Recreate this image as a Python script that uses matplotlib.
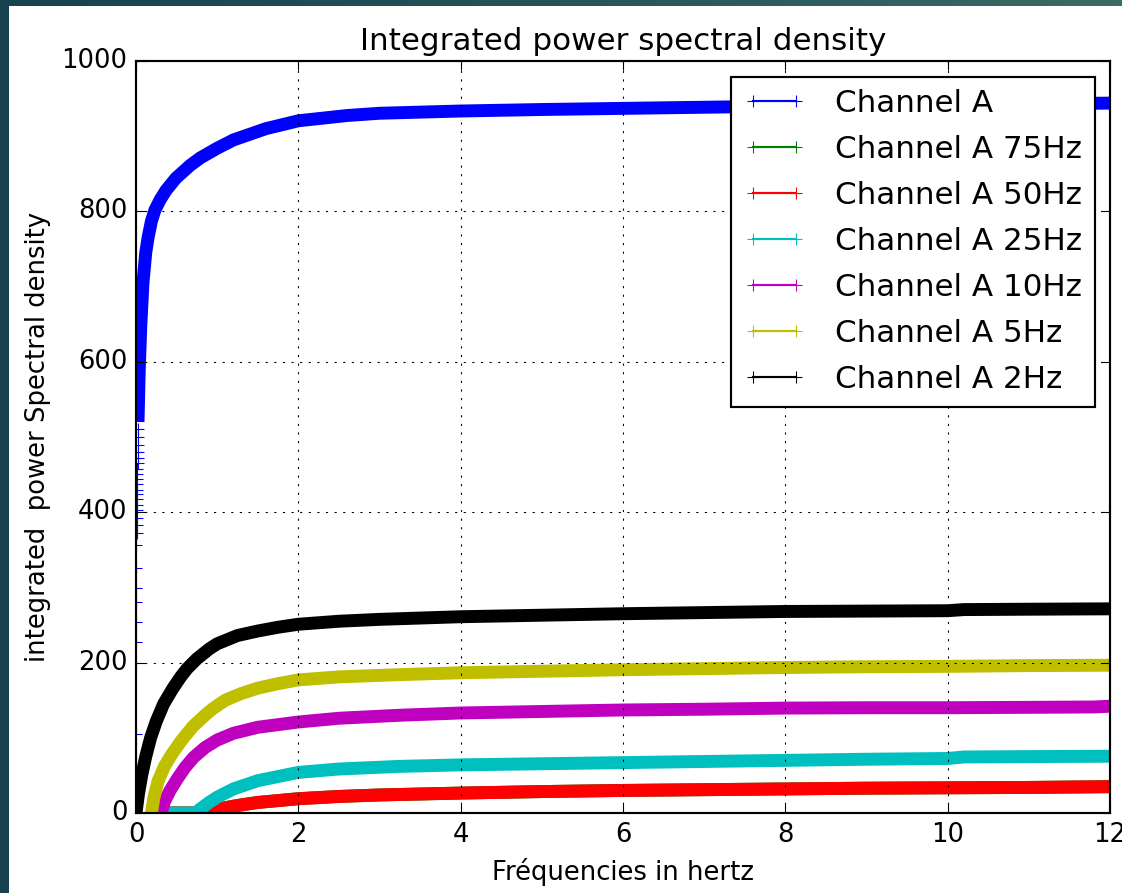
import matplotlib
matplotlib.use("Agg")
import numpy as np
import matplotlib.pyplot as plt
from matplotlib.lines import Line2D
from matplotlib.colors import LinearSegmentedColormap

plt.style.use("classic")
plt.rcParams["font.family"] = ["DejaVu Sans"]

# ---- data: cumulative PSD (frequency in Hz, integrated power) ----
labels = ["Channel A", "Channel A 75Hz", "Channel A 50Hz", "Channel A 25Hz",
          "Channel A 10Hz", "Channel A 5Hz", "Channel A 2Hz"]
colors = ["b", "g", "r", "c", "m", "y", "k"]

# first bins of the unfiltered channel, where the curve is almost vertical
blue_onset_hz = [0.0, 0.001, 0.002, 0.003, 0.004, 0.005, 0.006, 0.007, 0.008,
                 0.009, 0.010, 0.011, 0.012, 0.013, 0.014, 0.015, 0.016, 0.017,
                 0.018, 0.019, 0.020, 0.021, 0.022, 0.023, 0.024]
blue_onset_psd = [105, 227, 254, 281, 299, 326, 356, 372, 383, 392, 403, 410,
                  417, 424, 430, 437, 444, 451, 458, 465, 472, 480, 490, 500, 510]

blue_hz = [0.025, 0.04, 0.06, 0.086, 0.12, 0.15, 0.19, 0.234, 0.30, 0.37,
           0.49, 0.665, 0.79, 1.0, 1.2, 1.6, 2.0, 2.6, 3.0, 4.0, 5.0, 6.0,
           7.0, 8.0, 9.0, 10.0, 11.0, 12.0]
blue_psd = [520, 590, 650, 705, 745, 766, 787, 802, 816, 828,
            844, 861, 871, 884, 895, 910, 920.5, 927.5, 930.5, 933.5, 935.5, 937,
            938.5, 940, 941, 942, 943, 944]

red_hz = [0.40, 0.80, 1.0, 1.25, 1.5, 2.0, 2.5, 3.0, 4.0, 5.0, 6.0, 7.0, 8.0,
          9.0, 10.0, 11.0, 12.0]
red_psd = [0, 0, 5, 10, 14, 19, 22, 24, 26.5, 28.5, 30, 31, 32, 33, 33.5, 34, 35]

green_hz = [0.40, 0.80, 1.0, 1.25, 1.5, 2.0, 2.5, 3.0, 4.0, 5.0, 6.0, 7.0, 8.0,
            9.0, 10.0, 11.0, 12.0]
green_psd = [0, 0, 5, 10, 14, 19, 22, 24, 26.5, 28.5, 30, 31, 32, 33, 33.5, 34, 35]

cyan_hz = [0.30, 0.73, 0.80, 0.90, 1.0, 1.2, 1.5, 2.0, 2.5, 3.25, 4.0, 5.0,
           6.0, 7.0, 8.0, 9.0, 10.0, 10.2, 11.0, 12.0]
cyan_psd = [0, 0, 6, 14, 21, 32, 43, 54, 58.5, 62, 64, 65.5,
            67, 68.5, 70, 71.5, 72.5, 74.5, 75, 75.5]

magenta_hz = [0.31, 0.35, 0.42, 0.50, 0.60, 0.71, 0.85, 1.0, 1.2, 1.5, 2.0,
              2.5, 3.25, 4.0, 5.0, 6.0, 7.0, 8.0, 9.0, 10.0, 11.0, 11.8, 12.0]
magenta_psd = [0, 15, 30, 44, 60, 74, 87, 97, 106, 114, 121,
               126, 130, 133, 135, 137, 138, 139.5, 140, 140, 140.5, 141, 142]

yellow_hz = [0.19, 0.22, 0.27, 0.35, 0.44, 0.55, 0.70, 0.85, 0.95, 1.1, 1.3,
             1.5, 1.75, 2.0, 2.5, 3.25, 4.0, 5.0, 6.0, 7.0, 8.0, 9.0, 10.0,
             11.0, 12.0]
yellow_psd = [0, 20, 42, 62, 78, 95, 115, 130, 139, 150, 159,
              166, 172, 177, 181, 184, 186.5, 188.5, 190.5, 192, 193.5, 194.5,
              195, 196, 196.5]

black_hz = [0.0, 0.03, 0.07, 0.12, 0.18, 0.25, 0.34, 0.45, 0.55, 0.63, 0.75,
            0.90, 1.0, 1.25, 1.5, 1.75, 2.0, 2.5, 3.0, 4.0, 5.0, 6.0, 7.0,
            8.0, 9.0, 10.0, 10.2, 11.0, 12.0]
black_psd = [0, 25, 50, 75, 100, 122, 145, 165, 181, 192, 205,
             218, 225, 236, 242, 247, 251, 255, 257.5, 261, 263, 265, 266.5,
             268, 268.5, 269, 270.5, 271, 271.5]

series_hz = [blue_hz, green_hz, red_hz, cyan_hz, magenta_hz, yellow_hz, black_hz]
series_psd = [blue_psd, green_psd, red_psd, cyan_psd, magenta_psd, yellow_psd, black_psd]

# ---- figure ----
W, H, DPI = 1122, 893, 155
fig = plt.figure(figsize=(W / DPI, H / DPI), dpi=DPI, facecolor="white")

# dark slide frame on the left and top edges
left_strip = fig.add_axes([0, 0, 9 / W, 1])
left_strip.set_axis_off()
left_strip.add_patch(plt.Rectangle((0, 0), 1, 1, transform=left_strip.transAxes,
                                   color="#17424f", lw=0))
top_strip = fig.add_axes([0, 1 - 6 / H, 1, 6 / H])
top_strip.set_axis_off()
grad = np.linspace(0, 1, 256)[None, :]
frame_cmap = LinearSegmentedColormap.from_list("frame", ["#17424f", "#245459", "#3a6b65"])
top_strip.imshow(grad, aspect="auto", cmap=frame_cmap, extent=[0, 1, 0, 1])

ax = fig.add_axes([136 / W, (H - 813) / H, (1110 - 136) / W, (813 - 61) / H])

band_lw = 6.0
ax.plot(blue_onset_hz, blue_onset_psd, linestyle="none", marker="+",
        color="b", markersize=6, markeredgewidth=0.5)
for hz, psd, c in zip(series_hz, series_psd, colors):
    ax.plot(hz, psd, color=c, lw=band_lw, solid_capstyle="butt",
            solid_joinstyle="round")

ax.set_xlim(0, 12)
ax.set_ylim(0, 1000)
ax.grid(True)
ax.set_title("Integrated power spectral density")
ax.set_xlabel("Fréquencies in hertz")
ax.set_ylabel("integrated  power Spectral density")

handles = [Line2D([], [], color=c, marker="+", lw=1.0, markersize=6,
                  markeredgewidth=0.5) for c in colors]
ax.legend(handles, labels, loc="upper right", numpoints=2,
          labelspacing=0.55, handletextpad=0.95)

fig.savefig("out.png", dpi=DPI, facecolor="white")
